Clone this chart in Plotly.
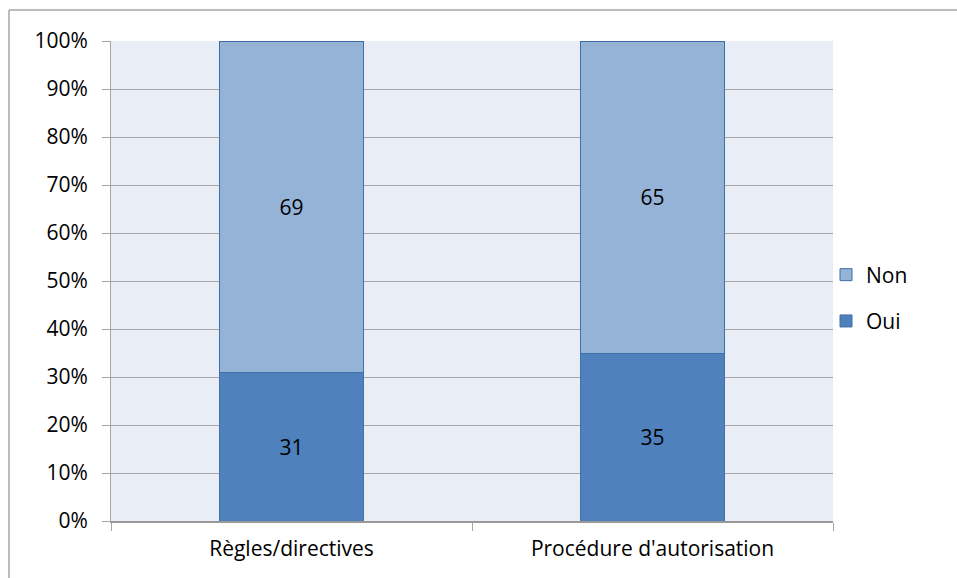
import plotly.graph_objects as go

categories = ["Règles/directives", "Procédure d'autorisation"]
oui = [31, 35]
non = [69, 65]

FONT = "Open Sans"
FS = 21
fig = go.Figure()
fig.add_trace(go.Bar(
    x=categories, y=oui, name="Oui", legendgroup="b", legendrank=2,
    marker=dict(color="#4F81BD", line=dict(color="#3F6FA6", width=1)),
    text=[str(v) for v in oui], textposition="inside", insidetextanchor="middle",
    textfont=dict(color="black", size=FS, family=FONT), textangle=0,
))
fig.add_trace(go.Bar(
    x=categories, y=non, name="Non", legendgroup="a", legendrank=1,
    marker=dict(color="#95B3D7", line=dict(color="#3F6FA6", width=1)),
    text=[str(v) for v in non], textposition="inside", insidetextanchor="middle",
    textfont=dict(color="black", size=FS, family=FONT), textangle=0,
))

W, H = 957, 578
L, R, T, B = 111, 833, 41, 521
fig.update_layout(
    width=W, height=H,
    margin=dict(l=L, r=W - R, t=T, b=H - B),
    barmode="stack", bargap=0.6,
    plot_bgcolor="#E9EDF6", paper_bgcolor="white",
    font=dict(family=FONT, size=FS, color="black"),
    showlegend=True,
    legend=dict(x=(826 - L) / (R - L), y=(B - 298) / (B - T), yanchor="middle", xanchor="left",
                traceorder="grouped", tracegroupgap=16, bgcolor="rgba(0,0,0,0)",
                font=dict(size=FS), itemwidth=30),
    uniformtext=dict(mode=False),
)
fig.update_yaxes(
    range=[0, 100], tickvals=list(range(0, 101, 10)),
    ticktext=[f"{v}%" for v in range(0, 101, 10)],
    showgrid=True, gridcolor="#A6A6A6", gridwidth=1,
    showline=True, linecolor="#A6A6A6", linewidth=1,
    ticks="outside", ticklen=8, tickcolor="#A6A6A6",
    ticklabelstandoff=10, zeroline=False,
)
fig.update_xaxes(
    showline=True, linecolor="#999999", linewidth=2,
    ticks="outside", ticklen=8, tickcolor="#A6A6A6", tickson="boundaries",
    showgrid=False, ticklabelstandoff=8,
)
# outer chart border
x0 = (9 - L) / (R - L)
y_top = (B - 10) / (B - T)
y_bot = (B - 600) / (B - T)
fig.add_shape(type="line", xref="paper", yref="paper", x0=x0, x1=x0, y0=y_bot, y1=y_top,
              line=dict(color="#A6A6A6", width=1.5))
fig.add_shape(type="line", xref="paper", yref="paper", x0=x0, x1=(1000 - L) / (R - L), y0=y_top, y1=y_top,
              line=dict(color="#A6A6A6", width=1.5))

fig.write_html("out.html")
